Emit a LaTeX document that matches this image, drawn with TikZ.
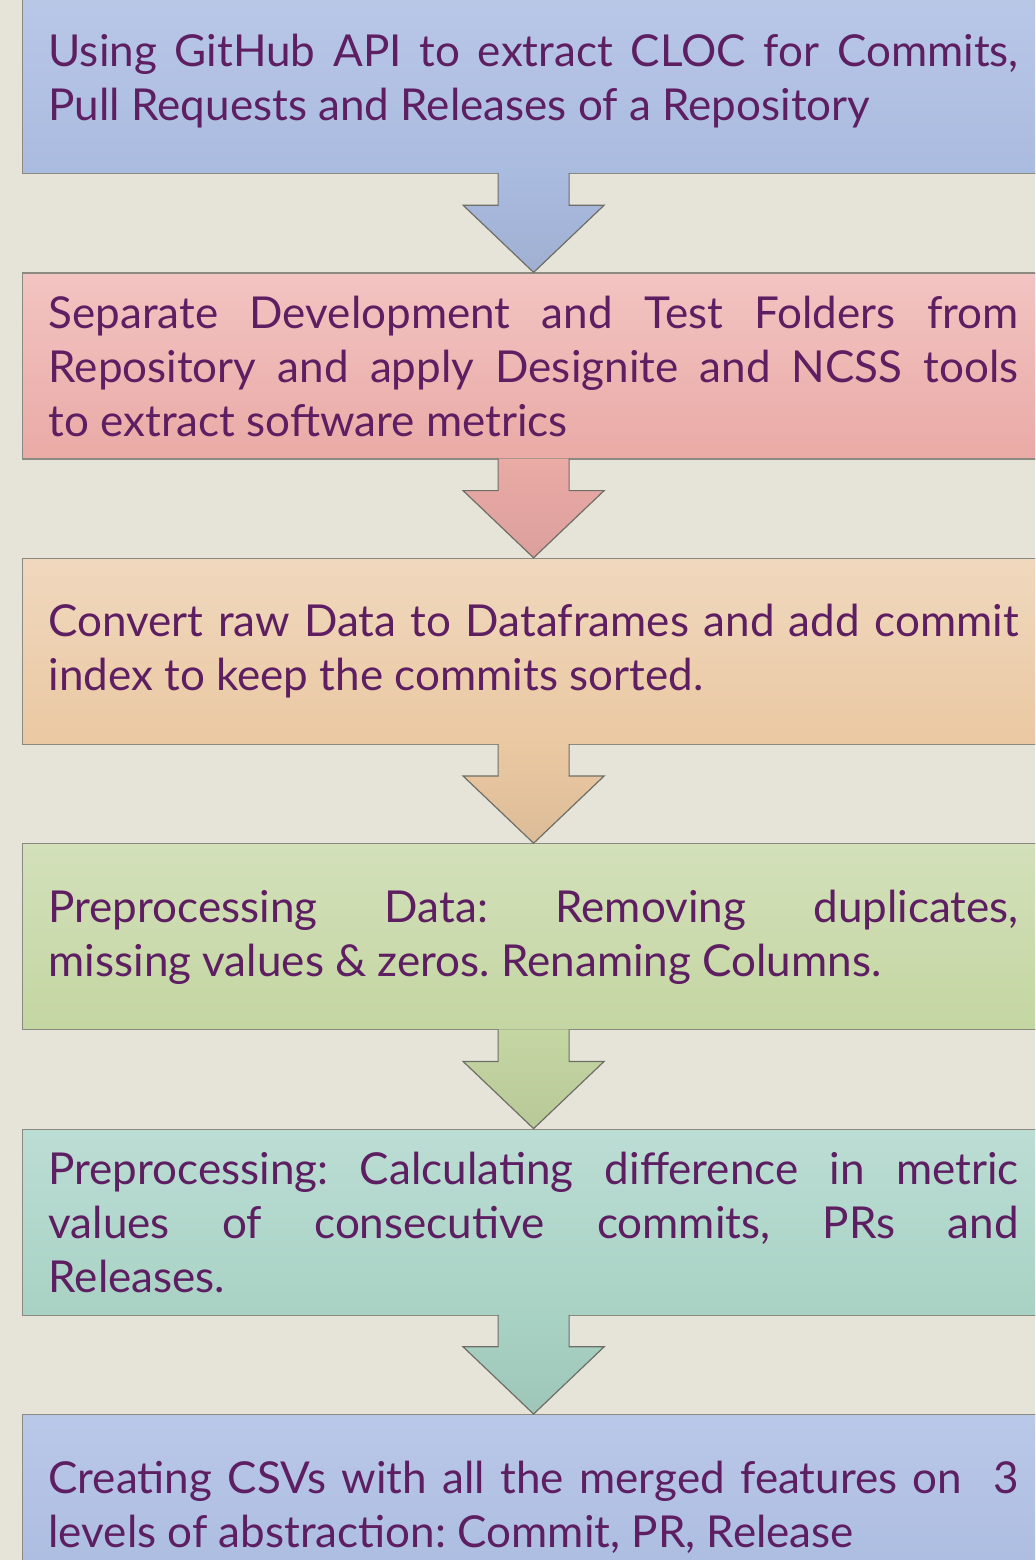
\documentclass[tikz,border=0pt]{standalone}
\usepackage{fontspec}
\setmainfont{Lato}
\usetikzlibrary{positioning,calc}
\definecolor{paper}{RGB}{230,228,216}
\definecolor{ink}{RGB}{94,30,98}
\definecolor{edge}{RGB}{138,138,128}
\definecolor{blueT}{RGB}{186,200,232}
\definecolor{blueB}{RGB}{170,187,224}
\definecolor{redT}{RGB}{242,196,194}
\definecolor{redB}{RGB}{234,170,166}
\definecolor{orangeT}{RGB}{240,216,190}
\definecolor{orangeB}{RGB}{234,200,162}
\definecolor{greenT}{RGB}{211,224,186}
\definecolor{greenB}{RGB}{196,214,162}
\definecolor{tealT}{RGB}{188,221,212}
\definecolor{tealB}{RGB}{168,210,196}
\tikzset{stepbox/.style={rectangle, draw=edge, line width=0.6pt,
           minimum width=511pt, minimum height=93pt, text width=485pt,
           inner xsep=13pt, align=justify, text=ink,
           font=\fontsize{22}{27}\selectfont\frenchspacing},
         flowarrow/.style={draw=edge!80!black, line width=0.6pt, line join=miter}}

\begin{document}
\begin{tikzpicture}[x=0.5pt,y=-0.5pt,node distance=49.1pt]
           \clip (0,0) rectangle (1035,1560);
           \fill[paper] (0,0) rectangle (1035,1560);
           \node[stepbox,anchor=north west,top color=blueT,bottom color=blueB] (b1) at (22,-13)
              {Using GitHub API to extract CLOC for Commits,\linebreak Pull Requests and Releases of a Repository};
           \node[stepbox,top color=redT,bottom color=redB] (b2) [below=of b1]
              {Separate Development and Test Folders from\linebreak Repository and apply Designite and NCSS tools\linebreak to extract software metrics};
           \node[stepbox,top color=orangeT,bottom color=orangeB] (b3) [below=of b2]
              {Convert raw Data to Dataframes and add commit\linebreak index to keep the commits sorted.};
           \node[stepbox,top color=greenT,bottom color=greenB] (b4) [below=of b3]
              {Preprocessing Data: Removing duplicates,\linebreak missing values \& zeros. Renaming Columns.};
           \node[stepbox,top color=tealT,bottom color=tealB] (b5) [below=of b4]
              {Preprocessing: Calculating difference in metric\linebreak values of consecutive commits, PRs and\linebreak Releases.};
           \node[stepbox,top color=blueT,bottom color=blueB] (b6) [below=of b5]
              {Creating CSVs with all the merged features on~~3\linebreak levels of abstraction: Commit, PR, Release};
            % block arrows between the steps
            \foreach \a/\b/\c in {b1/b2/blue,b2/b3/red,b3/b4/orange,b4/b5/green,b5/b6/teal}
              \path[flowarrow,top color=\c B,bottom color=\c B!94!black]
                ($(\a.south)+(-35.5,-1)$) -- ++(0,32) -- ++(-35,0) -- (\b.north)
                -- ($(\a.south)+(70.5,31)$) -- ++(-35,0) -- ($(\a.south)+(35.5,-1)$);
        \end{tikzpicture}
\end{document}
